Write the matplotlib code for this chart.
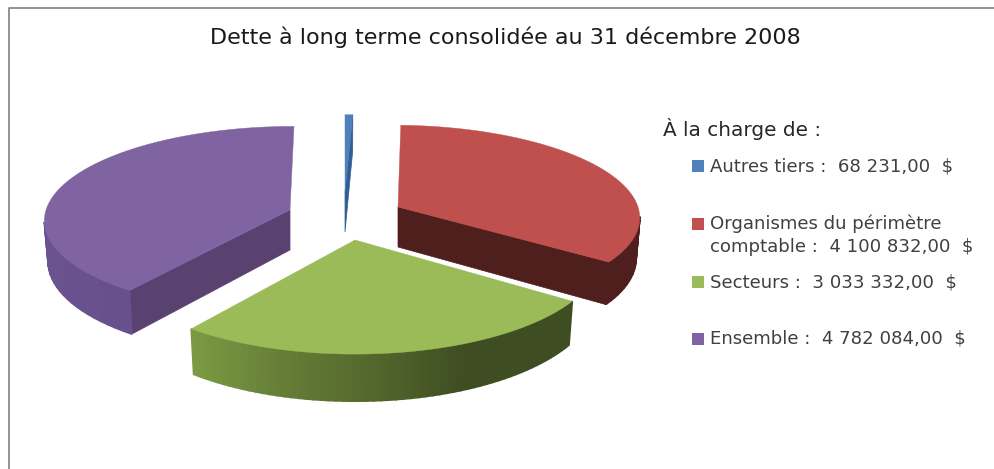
import numpy as np
import matplotlib
matplotlib.use('Agg')
import matplotlib.pyplot as plt

# Dette a long terme, in dollars
categories = ['Autres tiers', 'Organismes du périmètre comptable', 'Secteurs', 'Ensemble']
values = [68231.00, 4100832.00, 3033332.00, 4782084.00]

title = 'Dette à long terme consolidée au 31 décembre 2008'
legend_title = 'À la charge de :'
legend_lines = [['Autres tiers :  68 231,00  $'],
                ['Organismes du périmètre', 'comptable :  4 100 832,00  $'],
                ['Secteurs :  3 033 332,00  $'],
                ['Ensemble :  4 782 084,00  $']]

top_colors = ['#4f81bd', '#c0504d', '#9bbb59', '#8064a2']
cut_colors = ['#2f5f94', '#4f1f1d', '#3f4d22', '#5a4270']
# colours along the outer wall, as (fraction of the slice, colour)
wall_colors = [[(0, '#2f5f94'), (1, '#2f5f94')],
               [(0, '#4f1f1d'), (1, '#4f1f1d')],
               [(0, '#3f4d22'), (0.35, '#3f4d22'), (1, '#7b9a43')],
               [(0, '#67508c'), (1, '#6f5896')]]

# layout of each exploded slice, in pixels
tips_x = [345, 398, 355, 290]
tips_y = [192, 207, 240, 210]
radius_x = [240, 240, 243, 244]
radius_y = [85, 90, 97, 92]
persp = [0.1, 0.1, 0.15, 0.1]
shear = [0, -5, 0, 4]
depth = 40
shrink = 0.985


def project(theta, i):
    u, v = np.sin(theta), np.cos(theta)
    s = 1 / (1 + persp[i] * v)
    return tips_x[i] + radius_x[i] * u * s + shear[i] * v, tips_y[i] - radius_y[i] * v * s, s


def lower(x, y, s, i):
    return tips_x[i] + shrink * (x - tips_x[i]), y + depth * s


def wall_color(stops, t):
    ts = [p[0] for p in stops]
    rgb = np.array([matplotlib.colors.to_rgb(p[1]) for p in stops])
    return [np.interp(t, ts, rgb[:, k]) for k in range(3)]


fig = plt.figure(figsize=(9.95, 4.69), dpi=100)
ax = fig.add_axes([0, 0, 1, 1])
ax.set_xlim(0, 995)
ax.set_ylim(469, 0)
ax.axis('off')

# page frame
ax.plot([9, 9, 995], [469, 8.5, 8.5], color='#8a8a8a', lw=1.3)

angles = np.cumsum([0] + values) / np.sum(values) * 2 * np.pi

for i in [3, 1, 0, 2]:
    th = np.linspace(angles[i], angles[i + 1], 60)
    x, y, s = project(th, i)
    x2, y2 = lower(x, y, s, i)

    # cut faces, only those turned to the viewer
    if np.sin(angles[i]) < -1e-6:
        ax.fill([tips_x[i], x[0], x2[0], tips_x[i]],
                [tips_y[i], y[0], y2[0], tips_y[i] + depth],
                color=cut_colors[i], lw=0.5)
    if np.sin(angles[i + 1]) > 1e-6:
        ax.fill([tips_x[i], x[-1], x2[-1], tips_x[i]],
                [tips_y[i], y[-1], y2[-1], tips_y[i] + depth],
                color=cut_colors[i], lw=0.5)

    # outer wall
    for j in range(len(th) - 1):
        if x[j + 1] < x[j]:
            c = wall_color(wall_colors[i], j / (len(th) - 2))
            ax.fill([x[j], x[j + 1], x2[j + 1], x2[j]],
                    [y[j], y[j + 1], y2[j + 1], y2[j]],
                    color=c, lw=1.2)

    # top of the slice
    ax.fill(np.r_[tips_x[i], x], np.r_[tips_y[i], y], color=top_colors[i], lw=0.3)

font = 'DejaVu Sans'
ax.text(505, 37, title, ha='center', va='center', fontsize=16,
        family=font, color='#1a1a1a')
ax.text(663, 129, legend_title, ha='left', va='center', fontsize=14.4,
        family=font, color='#262626')

legend_y = [166, 224, 282, 339]
for i in range(len(categories)):
    ax.scatter([697.5], [legend_y[i]], marker='s', s=85, color=top_colors[i], lw=0)
    for j, line in enumerate(legend_lines[i]):
        ax.text(710, legend_y[i] + j * 23, line, ha='left', va='center',
                fontsize=13.1, family=font, color='#404040')

fig.savefig('out.png', dpi=100)
